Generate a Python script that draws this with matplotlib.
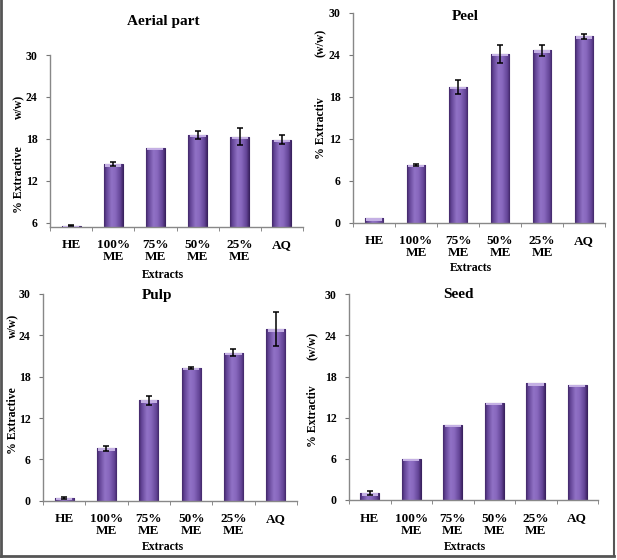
import matplotlib
matplotlib.use("Agg")
import matplotlib.pyplot as plt
import numpy as np
from matplotlib.colors import LinearSegmentedColormap
from matplotlib.lines import Line2D

# ---------------- data ----------------
categories = ["HE", "100%\nME", "75%\nME", "50%\nME", "25%\nME", "AQ"]

aerial_vals = [5.6, 14.4, 16.7, 18.6, 18.3, 17.9]
aerial_err = [0.1, 0.3, 0.0, 0.6, 1.2, 0.6]

peel_vals = [0.6, 8.3, 19.4, 24.1, 24.6, 26.6]
peel_err = [0.0, 0.15, 0.95, 1.3, 0.8, 0.35]

pulp_vals = [0.4, 7.6, 14.6, 19.3, 21.5, 24.9]
pulp_err = [0.1, 0.35, 0.65, 0.15, 0.5, 2.45]

seed_vals = [1.0, 6.0, 11.0, 14.2, 17.0, 16.8]
seed_err = [0.25, 0.0, 0.0, 0.0, 0.0, 0.0]

yticks = [0, 6, 12, 18, 24, 30]
aerial_yticks = [6, 12, 18, 24, 30]

titles = ["Aerial part", "Peel", "Pulp", "Seed"]
ylabel_main = ["% Extractive", "% Extractiv", "% Extractive", "% Extractiv"]
ylabel_unit = ["w/w)", "(w/w)", "w/w)", "(w/w)"]
xlabel = "Extracts"

# ---------------- style ----------------
W, H = 617, 560
fig = plt.figure(figsize=(W / 100, H / 100), dpi=100)
fig.patch.set_facecolor("white")
SERIF = ["Liberation Serif", "DejaVu Serif"]

cmap = LinearSegmentedColormap.from_list(
    "cyl", [(0.0, "#422869"), (0.12, "#634496"), (0.4, "#9172c6"),
            (0.6, "#8868be"), (0.88, "#634496"), (1.0, "#422869")])
grad = np.linspace(0, 1, 64).reshape(1, -1)


def px_rect(l, r, t, b):
    return [l / W, 1 - b / H, (r - l) / W, (b - t) / H]


panels = [
    dict(rect=px_rect(50, 303, 55, 227), vals=aerial_vals, err=aerial_err,
         ylim=(5.4, 30), ticks=aerial_yticks,
         title_xy=(163, 22), xl_xy=(163, 275),
         ylm_xy=(19, 180), ylu_xy=(19, 107)),
    dict(rect=px_rect(353, 605, 12.7, 222.7), vals=peel_vals, err=peel_err,
         ylim=(0, 30), ticks=yticks,
         title_xy=(465, 17), xl_xy=(471, 268),
         ylm_xy=(321, 128), ylu_xy=(321, 43)),
    dict(rect=px_rect(43, 297, 294, 500.7), vals=pulp_vals, err=pulp_err,
         ylim=(0, 30), ticks=yticks,
         title_xy=(157, 296), xl_xy=(163, 547),
         ylm_xy=(13, 421), ylu_xy=(13, 326)),
    dict(rect=px_rect(349, 598, 294.3, 500), vals=seed_vals, err=seed_err,
         ylim=(0, 30), ticks=yticks,
         title_xy=(458, 295), xl_xy=(465, 547),
         ylm_xy=(313, 416), ylu_xy=(313, 346)),
]

for i, p in enumerate(panels):
    ax = fig.add_axes(p["rect"])
    ax.set_facecolor("none")
    x = np.arange(len(categories))
    base = p["ylim"][0]
    heights = [v - base for v in p["vals"]]
    bars = ax.bar(x, heights, bottom=base, width=0.45, color="#7a5aae",
                  edgecolor="#3a2260", linewidth=0.8, zorder=2)
    for rect in bars:
        bx, by, bw, bh = rect.get_x(), rect.get_y(), rect.get_width(), rect.get_height()
        im = ax.imshow(grad, extent=[bx, bx + bw, by, by + bh], aspect="auto",
                       cmap=cmap, zorder=2.5, interpolation="bilinear")
        im.set_clip_path(rect)
    # light top cap
    ax.bar(x, [0.35] * len(x), bottom=[v - 0.35 for v in p["vals"]], width=0.38,
           color="#c4b0e4", edgecolor="none", zorder=3)
    idx = [k for k, e in enumerate(p["err"]) if e > 0]
    ax.errorbar([x[k] for k in idx], [p["vals"][k] for k in idx],
                yerr=[p["err"][k] for k in idx], fmt="none", ecolor="black",
                elinewidth=1.1, capsize=2.5, capthick=1.1, zorder=4)

    ax.set_xlim(-0.5, 5.5)
    ax.set_ylim(*p["ylim"])
    ax.set_yticks(p["ticks"])
    ax.set_yticklabels([str(t) for t in p["ticks"]], fontfamily=SERIF,
                       fontweight="bold", fontsize=8.5)
    ax.set_xticks(x)
    ax.set_xticklabels(categories, fontfamily=SERIF, fontweight="bold",
                       fontsize=9.5, linespacing=1.0)
    ax.set_xticks(np.arange(-0.5, 6.0, 1.0), minor=True)
    ax.tick_params(axis="x", which="major", length=0, pad=9)
    ax.tick_params(axis="x", which="minor", length=3, direction="out",
                   color="#777777")
    ax.tick_params(axis="y", length=3, direction="out", color="#777777", pad=6)
    for s in ["top", "right"]:
        ax.spines[s].set_visible(False)
    for s in ["left", "bottom"]:
        ax.spines[s].set_color("#888888")
        ax.spines[s].set_linewidth(1.0)

    tx, ty = p["title_xy"]
    fig.text(tx / W, 1 - ty / H, titles[i], ha="center", va="center",
             fontfamily=SERIF, fontweight="bold", fontsize=11)
    lx, ly = p["xl_xy"]
    fig.text(lx / W, 1 - ly / H, xlabel, ha="center", va="center",
             fontfamily=SERIF, fontweight="bold", fontsize=8.5)
    mx, my = p["ylm_xy"]
    fig.text(mx / W, 1 - my / H, ylabel_main[i], ha="center", va="center",
             rotation=90, fontfamily=SERIF, fontweight="bold", fontsize=8.5)
    ux, uy = p["ylu_xy"]
    fig.text(ux / W, 1 - uy / H, ylabel_unit[i], ha="center", va="center",
             rotation=90, fontfamily=SERIF, fontweight="bold", fontsize=8.5)

# outer frame
frame_col = "#555555"
fig.add_artist(Line2D([1 / W, 1 / W], [4 / H, 1], color=frame_col, lw=2))
fig.add_artist(Line2D([614 / W, 614 / W], [4 / H, 1], color=frame_col, lw=1.5))
fig.add_artist(Line2D([1 / W, 614 / W], [4 / H, 4 / H], color=frame_col, lw=2))

fig.savefig("out.png", dpi=100, facecolor="white")
